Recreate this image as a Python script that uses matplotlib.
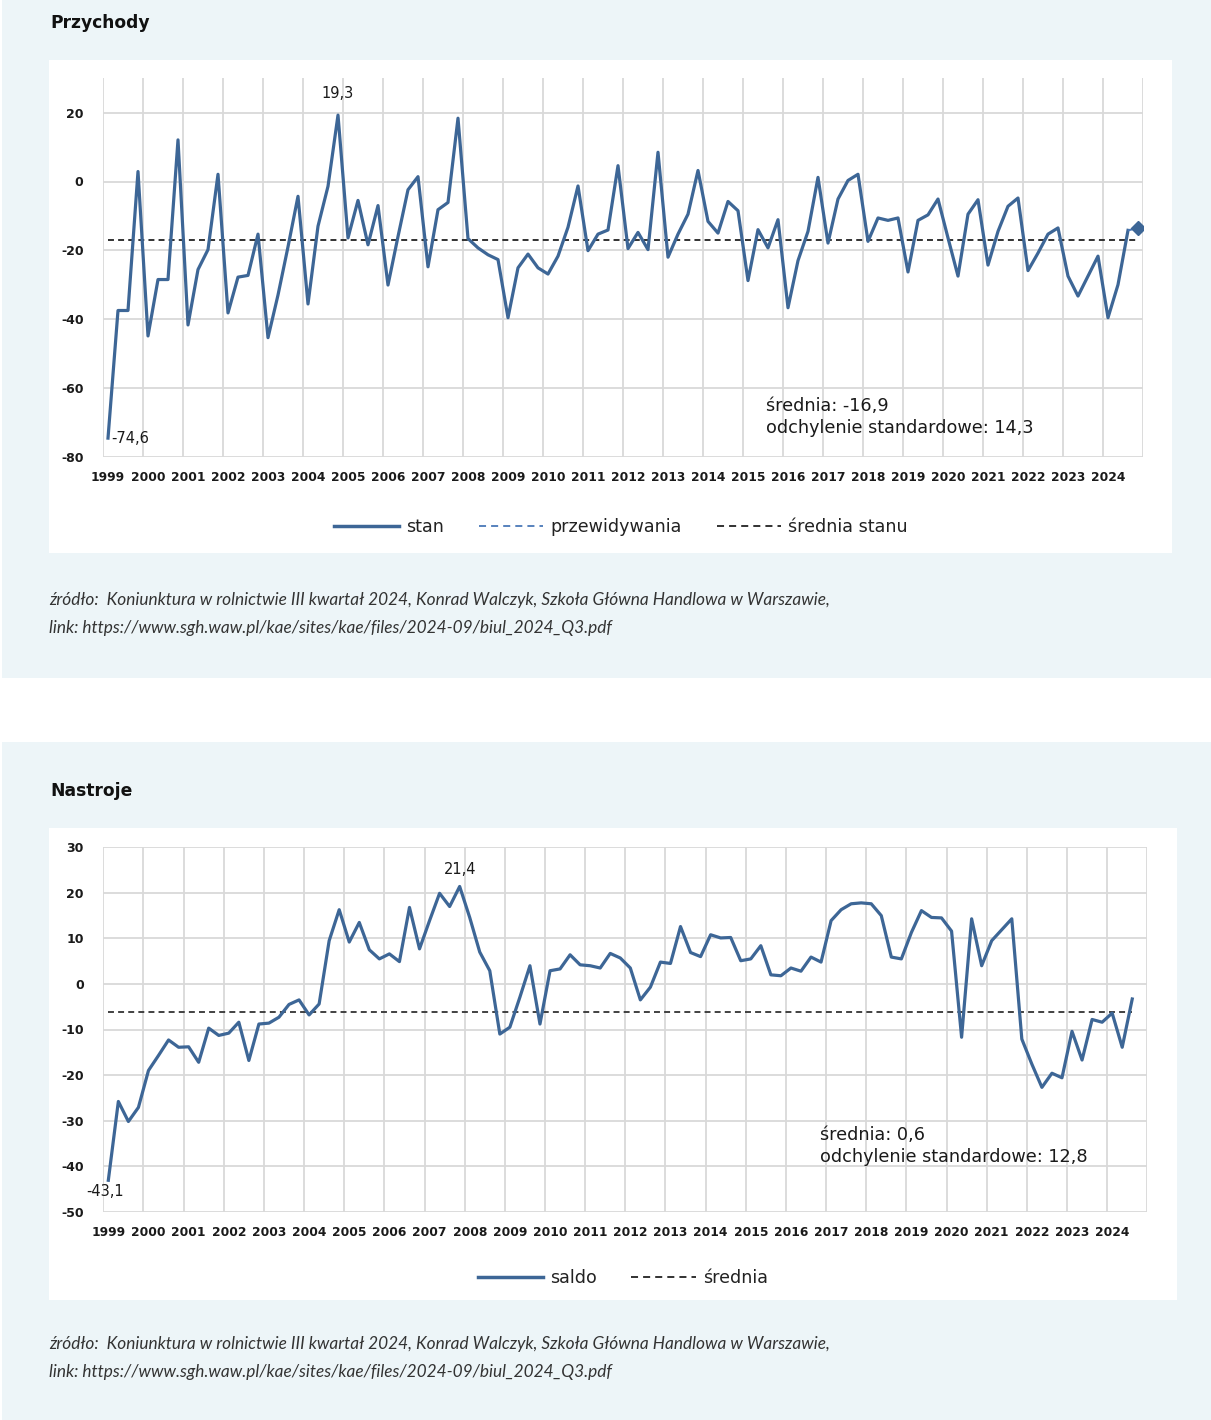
import matplotlib
matplotlib.use('Agg')
import matplotlib.pyplot as plt
from matplotlib.patches import Rectangle
from matplotlib.lines import Line2D

# ---------------- data ----------------
years = [str(y) for y in range(1999, 2025)]

przychody_stan = [
    -74.6, -37.5, -37.5, 2.9, -44.9, -28.5, -28.5, 12.1, -41.7, -25.6,
    -19.8, 2.1, -38.2, -27.8, -27.3, -15.3, -45.4, -33.0, -19.0, -4.3,
    -35.6, -13.0, -1.4, 19.3, -16.4, -5.5, -18.4, -7.0, -30.1, -16.0,
    -2.4, 1.4, -24.8, -8.2, -6.1, 18.4, -16.6, -19.3, -21.3, -22.7,
    -39.6, -25.1, -21.1, -25.1, -26.9, -21.7, -13.3, -1.3, -20.1, -15.3,
    -14.1, 4.6, -19.5, -14.8, -19.8, 8.5, -22.0, -15.3, -9.5, 3.2,
    -11.6, -15.0, -5.8, -8.5, -28.8, -14.0, -19.3, -11.1, -36.7, -23.0,
    -14.5, 1.2, -17.9, -5.1, 0.3, 2.1, -17.4, -10.6, -11.3, -10.6,
    -26.3, -11.3, -9.7, -5.1, -16.4, -27.5, -9.5, -5.3, -24.3, -14.5,
    -7.2, -4.8, -25.9, -20.8, -15.3, -13.5, -27.5, -33.3, -27.5, -21.7,
    -39.6, -30.0, -14.2]
przychody_prognoza = -13.5
przychody_srednia = -16.9

nastroje_saldo = [
    -43.1, -25.8, -30.2, -27.1, -19.0, -15.7, -12.3, -13.9, -13.8, -17.2,
    -9.7, -11.3, -10.8, -8.4, -16.8, -8.8, -8.6, -7.3, -4.5, -3.5,
    -6.8, -4.4, 9.5, 16.3, 9.2, 13.5, 7.5, 5.5, 6.6, 4.9,
    16.8, 7.7, 13.9, 19.9, 17.0, 21.4, 14.6, 7.0, 2.9, -11.0,
    -9.5, -2.9, 4.0, -8.8, 2.9, 3.3, 6.4, 4.2, 4.0, 3.5,
    6.7, 5.7, 3.5, -3.5, -0.7, 4.8, 4.5, 12.6, 6.9, 6.0,
    10.8, 10.1, 10.2, 5.1, 5.5, 8.4, 2.0, 1.8, 3.5, 2.8,
    5.9, 4.8, 13.9, 16.3, 17.6, 17.8, 17.6, 15.0, 5.9, 5.5,
    11.3, 16.1, 14.6, 14.5, 11.6, -11.7, 14.3, 4.0, 9.5, 11.9,
    14.3, -12.1, -17.6, -22.7, -19.6, -20.6, -10.4, -16.7, -7.8, -8.4,
    -6.4, -13.9, -3.3]
nastroje_srednia = -6.1

przychody_yticks = [-80, -60, -40, -20, 0, 20]
nastroje_yticks = [-50, -40, -30, -20, -10, 0, 10, 20, 30]

src_line1 = "źródło:  Koniunktura w rolnictwie III kwartał 2024, Konrad Walczyk, Szkoła Główna Handlowa w Warszawie,"
src_line2 = "link: https://www.sgh.waw.pl/kae/sites/kae/files/2024-09/biul_2024_Q3.pdf"

# ---------------- styling ----------------
W, H = 1211, 1420
BLUE = '#3D6696'
BLUE_LIGHT = '#4A78B8'
GRID = '#D9D9D9'
PANEL = '#EDF5F8'
TXT = '#1a1a1a'
MEAN_DASH = (0, (3.3, 2.3))
LEG_DASH = (0, (3.9, 2.8))


def fx(x):
    return x / W


def fy(y):
    return 1 - y / H


fig = plt.figure(figsize=(W / 100, H / 100), dpi=100)
fig.patch.set_facecolor('white')

# panels
fig.patches.append(Rectangle((fx(2), fy(678)), fx(W) - fx(2), fy(0) - fy(678),
                             transform=fig.transFigure, facecolor=PANEL, edgecolor='none', zorder=-10))
fig.patches.append(Rectangle((fx(2), fy(1420)), fx(W) - fx(2), fy(742) - fy(1420),
                             transform=fig.transFigure, facecolor=PANEL, edgecolor='none', zorder=-10))
# white chart boxes
fig.patches.append(Rectangle((fx(49), fy(553)), fx(1172) - fx(49), fy(60) - fy(553),
                             transform=fig.transFigure, facecolor='white', edgecolor='none', zorder=-9))
fig.patches.append(Rectangle((fx(49), fy(1300)), fx(1177) - fx(49), fy(828) - fy(1300),
                             transform=fig.transFigure, facecolor='white', edgecolor='none', zorder=-9))

# titles
fig.text(fx(50), fy(23), 'Przychody', fontsize=12.3, fontweight='bold', family='DejaVu Sans',
         color='#111', ha='left', va='center')
fig.text(fx(50), fy(791), 'Nastroje', fontsize=12.3, fontweight='bold', family='DejaVu Sans',
         color='#111', ha='left', va='center')


def style_axes(ax, nx, ylim, yticks):
    ax.set_facecolor('white')
    ax.set_xlim(-0.5, nx - 0.5)
    ax.set_ylim(*ylim)
    for s in ax.spines.values():
        s.set_visible(False)
    ax.set_yticks(yticks)
    ax.set_yticklabels([str(v) for v in yticks])
    ax.set_xticks([4 * k for k in range(len(years))])
    ax.set_xticklabels(years)
    ax.set_xticks([4 * k - 0.5 for k in range(len(years) + 1)], minor=True)
    ax.tick_params(axis='both', which='both', length=0)
    ax.tick_params(axis='y', pad=14, labelsize=9, labelcolor=TXT)
    ax.tick_params(axis='x', pad=10, labelsize=8.8, labelcolor=TXT)
    for lab in ax.get_xticklabels() + ax.get_yticklabels():
        lab.set_fontweight('bold')
        lab.set_family('DejaVu Sans')
    ax.grid(False)
    ax.yaxis.grid(True, which='major', color=GRID, lw=1.3)
    ax.xaxis.grid(True, which='minor', color=GRID, lw=1.3)
    ax.set_axisbelow(True)


# ---------------- top chart ----------------
n_top = len(przychody_stan) + 1
ax1 = fig.add_axes([fx(103), fy(456.7), fx(1143) - fx(103), fy(78.3) - fy(456.7)])
style_axes(ax1, n_top, (-80, 30), przychody_yticks)
xs_top = list(range(len(przychody_stan)))
ax1.plot(xs_top, przychody_stan, color=BLUE, lw=2.3, zorder=3)
ax1.plot([xs_top[-1], n_top - 1], [przychody_stan[-1], przychody_prognoza],
         color=BLUE_LIGHT, lw=1.5, ls=(0, (3, 2)), zorder=3)
ax1.plot([n_top - 1], [przychody_prognoza], marker='D', ms=7.5, color=BLUE, mec=BLUE, zorder=4)
ax1.plot([0, n_top - 1], [przychody_srednia, przychody_srednia], color='#222', lw=1.3,
         ls=MEAN_DASH, zorder=2)

imax = przychody_stan.index(max(przychody_stan))
ax1.annotate('19,3', (imax, przychody_stan[imax]), xytext=(0, 10), textcoords='offset points',
             ha='center', va='bottom', fontsize=10.5, family='DejaVu Sans', color=TXT)
ax1.annotate('-74,6', (0, przychody_stan[0]), xytext=(2, 0), textcoords='offset points',
             ha='left', va='center', fontsize=10.5, family='DejaVu Sans', color=TXT)

fig.text(fx(766), fy(406), 'średnia: -16,9', fontsize=12.7, family='DejaVu Sans', color=TXT,
         ha='left', va='center')
fig.text(fx(766), fy(428), 'odchylenie standardowe: 14,3', fontsize=12.7, family='DejaVu Sans',
         color=TXT, ha='left', va='center')

LEG_PROP = {'family': 'DejaVu Sans', 'size': 12.6}
h1 = [Line2D([], [], color=BLUE, lw=2.5),
      Line2D([], [], color=BLUE_LIGHT, lw=1.3, ls=LEG_DASH),
      Line2D([], [], color='#222', lw=1.3, ls=LEG_DASH)]
fig.legend(h1, ['stan', 'przewidywania', 'średnia stanu'], loc='center',
           bbox_to_anchor=(fx(621), fy(527)), ncol=3, frameon=False,
           prop=LEG_PROP, handlelength=3.7,
           handletextpad=0.4, columnspacing=2.0, labelcolor='#222')

SRC = dict(fontsize=12.4, style='italic', family='Lato', color='#333', ha='left', va='center')
fig.text(fx(49), fy(600), src_line1, **SRC)
fig.text(fx(49), fy(628), src_line2, **SRC)

# ---------------- bottom chart ----------------
n_bot = len(nastroje_saldo)
ax2 = fig.add_axes([fx(103.3), fy(1211.7), fx(1147.3) - fx(103.3), fy(847.3) - fy(1211.7)])
style_axes(ax2, n_bot, (-50, 30), nastroje_yticks)
xs_bot = list(range(n_bot))
ax2.plot(xs_bot, nastroje_saldo, color=BLUE, lw=2.3, zorder=3)
ax2.plot([0, n_bot - 1], [nastroje_srednia, nastroje_srednia], color='#333', lw=1.3,
         ls=MEAN_DASH, zorder=2)

jmax = nastroje_saldo.index(max(nastroje_saldo))
ax2.annotate('21,4', (jmax, nastroje_saldo[jmax]), xytext=(0, 7), textcoords='offset points',
             ha='center', va='bottom', fontsize=10.5, family='DejaVu Sans', color=TXT)
ax2.annotate('-43,1', (0, nastroje_saldo[0]), xytext=(-2, -3), textcoords='offset points',
             ha='center', va='top', fontsize=10.5, family='DejaVu Sans', color=TXT)

fig.text(fx(820), fy(1135), 'średnia: 0,6', fontsize=12.7, family='DejaVu Sans', color=TXT,
         ha='left', va='center')
fig.text(fx(820), fy(1157), 'odchylenie standardowe: 12,8', fontsize=12.7, family='DejaVu Sans',
         color=TXT, ha='left', va='center')

h2 = [Line2D([], [], color=BLUE, lw=2.5),
      Line2D([], [], color='#222', lw=1.3, ls=LEG_DASH)]
fig.legend(h2, ['saldo', 'średnia'], loc='center',
           bbox_to_anchor=(fx(623), fy(1278)), ncol=2, frameon=False,
           prop=LEG_PROP, handlelength=3.7,
           handletextpad=0.4, columnspacing=2.0, labelcolor='#222')

fig.text(fx(49), fy(1344), src_line1, **SRC)
fig.text(fx(49), fy(1372), src_line2, **SRC)

fig.savefig('out.png', dpi=100, facecolor=fig.get_facecolor())
